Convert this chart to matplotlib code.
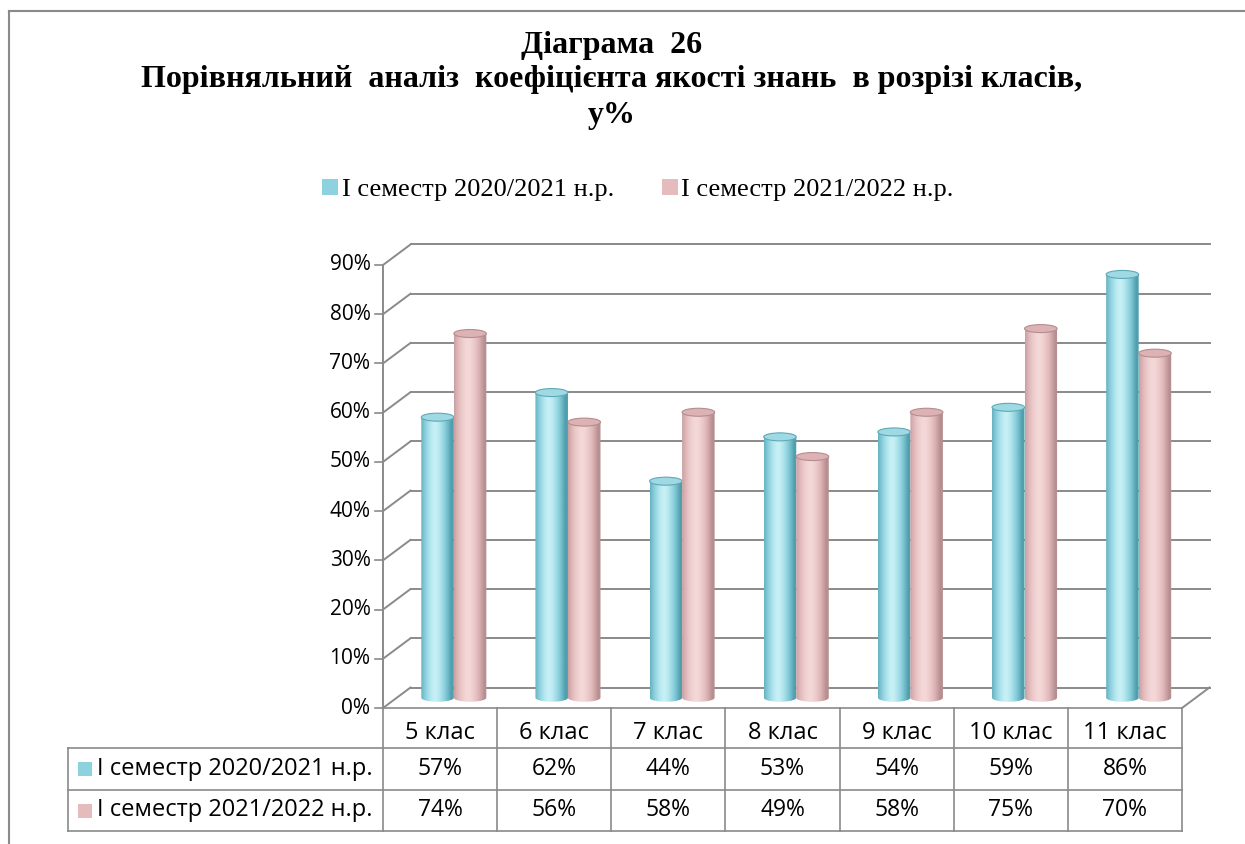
"""Діаграма 26 - 3D cylinder columns with data table underneath."""
import numpy as np
import matplotlib
matplotlib.use("Agg")
import matplotlib.pyplot as plt
from matplotlib.path import Path
from matplotlib.patches import PathPatch, Ellipse, Rectangle
from matplotlib.lines import Line2D
import matplotlib.colors as mcolors

classes = ["5 клас", "6 клас", "7 клас", "8 клас", "9 клас", "10 клас", "11 клас"]
sem_2020 = [57, 62, 44, 53, 54, 59, 86]
sem_2021 = [74, 56, 58, 49, 58, 75, 70]
series_names = ["І семестр 2020/2021 н.р.", "І семестр 2021/2022 н.р."]
yticks = [0, 10, 20, 30, 40, 50, 60, 70, 80, 90]

W, H = 1245, 844
GRAY = "#8a8a8a"
SANS = ["Open Sans", "DejaVu Sans"]
SERIF = ["Liberation Serif", "DejaVu Serif"]
BLUE = dict(edge="#4f9fae", mid="#8fd2df", hi="#c6f0f6", top="#9fd9e4", rim="#5fa9b6")
PINK = dict(edge="#b88f91", mid="#e4bcbd", hi="#f4d8d8", top="#dcb2b4", rim="#b58d8f")

# pixel frame of the front plane: x 383..1182 for 7 columns, y 708 (0%) .. 265 (90%)
PX = (1182 - 383) / 7.0
PY = (708 - 265) / 90.0
DX, DY = 27.5 / PX, 20.5 / PY          # depth offset (back wall)
ROWS = [0, -(748 - 708) / PY, -(790 - 708) / PY, -(831 - 708) / PY]
LEFT = (68 - 383) / PX

fig = plt.figure(figsize=(W / 100, H / 100), dpi=100)
ax = fig.add_axes([0, 0, 1, 1])
ax.axis("off")


def cylinder(ax, xc, w, base, top, pal, z):
    eh = 8.0 / PY
    t = np.linspace(np.pi, 2 * np.pi, 40)
    pts = [(xc - w / 2, top), (xc - w / 2, base)]
    pts += list(zip(xc + w / 2 * np.cos(t), base + eh / 2 * np.sin(t)))
    pts += [(xc + w / 2, top), (xc - w / 2, top)]
    clip = PathPatch(Path(pts), facecolor="none", edgecolor="none", zorder=z)
    ax.add_patch(clip)
    s = np.linspace(-1, 1, 64)
    k = np.clip(1 - np.abs(s + 0.15) ** 1.6, 0, 1)
    c_edge, c_mid, c_hi = (np.array(mcolors.to_rgb(pal[n])) for n in ("edge", "mid", "hi"))
    grad = np.where(k[:, None] < 0.6,
                    c_edge + (c_mid - c_edge) * (k[:, None] / 0.6),
                    c_mid + (c_hi - c_mid) * ((k[:, None] - 0.6) / 0.4))
    im = ax.imshow(grad[None, :, :], extent=(xc - w / 2, xc + w / 2, base - eh / 2, top),
                   aspect="auto", interpolation="bilinear", zorder=z)
    im.set_clip_path(clip)
    ax.add_patch(Ellipse((xc, top), w, eh, facecolor=pal["top"], edgecolor=pal["rim"],
                         lw=0.8, zorder=z + 0.1))


# walls / gridlines
for v in yticks:
    ax.plot([0, DX], [v, v + DY], color=GRAY, lw=1.4, zorder=1)
    ax.plot([DX, 7 + DX], [v + DY, v + DY], color=GRAY, lw=1.4, zorder=1)
    ax.plot([-0.07, 0], [v, v], color=GRAY, lw=1.2, zorder=1)
    ax.text(-0.11, v, f"{v}%", ha="right", va="center", fontsize=15, family=SANS)
ax.plot([0, 0], [0, yticks[-1]], color=GRAY, lw=1.4, zorder=1)
ax.plot([7, 7 + DX], [0, DY], color=GRAY, lw=1.4, zorder=1)

# cylinders, standing at mid depth
w = 0.285
for i in range(len(classes)):
    xc = i + 0.5 + DX / 2
    cylinder(ax, xc - w / 2, w, DY / 2, sem_2020[i] + DY / 2, BLUE, 3)
    cylinder(ax, xc + w / 2, w, DY / 2, sem_2021[i] + DY / 2, PINK, 4)

# data table
tl = dict(color=GRAY, lw=1.2, zorder=5)
ax.plot([0, 7], [ROWS[0], ROWS[0]], **tl)
for r in ROWS[1:]:
    ax.plot([LEFT, 7], [r, r], **tl)
for i in range(len(classes) + 1):
    ax.plot([i, i], [ROWS[0], ROWS[3]], **tl)
ax.plot([LEFT, LEFT], [ROWS[1], ROWS[3]], **tl)

for i, name in enumerate(classes):
    ax.text(i + 0.5, (ROWS[0] + ROWS[1]) / 2 - 1.0, name, ha="center", va="center",
            fontsize=17, family=SANS)
    ax.text(i + 0.5, (ROWS[1] + ROWS[2]) / 2, f"{sem_2020[i]}%", ha="center", va="center",
            fontsize=16.5, family=SANS)
    ax.text(i + 0.5, (ROWS[2] + ROWS[3]) / 2, f"{sem_2021[i]}%", ha="center", va="center",
            fontsize=16.5, family=SANS)

for j, (name, pal) in enumerate(zip(series_names, (BLUE, PINK))):
    yc = (ROWS[j + 1] + ROWS[j + 2]) / 2
    ax.add_patch(Rectangle(((78 - 383) / PX, yc - 7 / PY), 14 / PX, 14 / PY,
                           facecolor=pal["mid"], edgecolor="none"))
    ax.text((97 - 383) / PX, yc, name, ha="left", va="center", fontsize=17, family=SANS)

ax.set_xlim(-383 / PX, (W - 383) / PX)
ax.set_ylim(-(H - 708) / PY, 708 / PY)

# title
for txt, yp in [("Діаграма  26", 45),
                ("Порівняльний  аналіз  коефіцієнта якості знань  в розрізі класів,", 80),
                ("у%", 115)]:
    fig.text(612 / W, 1 - yp / H, txt, ha="center", va="center", fontsize=23,
             fontweight="bold", family=SERIF)

# legend
handles = [Rectangle((0, 0), 1, 1, facecolor=p["mid"], edgecolor="none") for p in (BLUE, PINK)]
fig.legend(handles, series_names, loc="center", bbox_to_anchor=(638 / W, 1 - 190 / H),
           ncol=2, frameon=False, prop=dict(family=SERIF, size=19),
           handlelength=0.6, handleheight=0.6, handletextpad=0.15, columnspacing=1.8)

# outer frame
fx, fy = 9 / W, 1 - 11 / H
fig.add_artist(Line2D([fx, 1], [fy, fy], color=GRAY, lw=1.5, transform=fig.transFigure))
fig.add_artist(Line2D([fx, fx], [0, fy], color=GRAY, lw=1.5, transform=fig.transFigure))

fig.savefig("out.png", dpi=100, facecolor="white")
